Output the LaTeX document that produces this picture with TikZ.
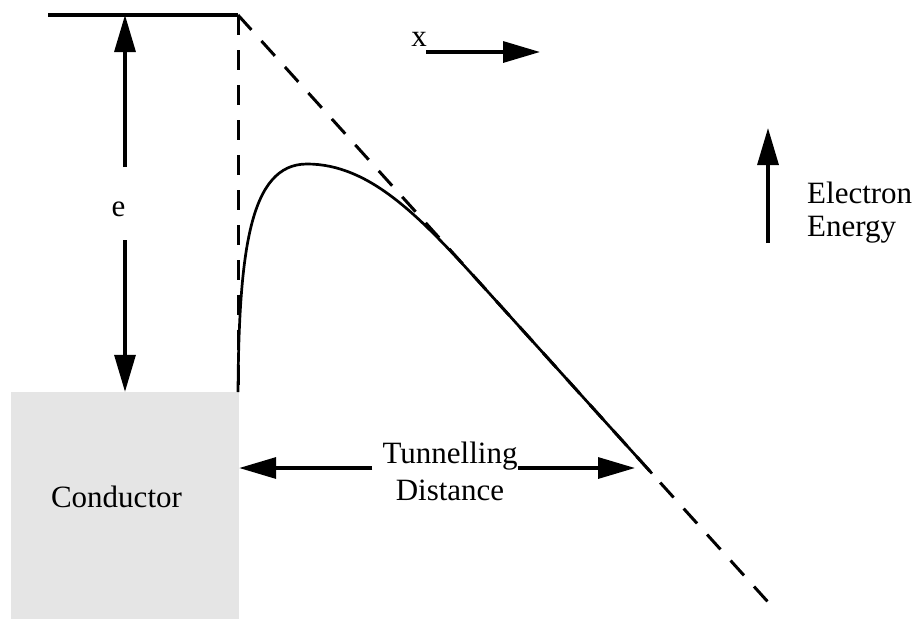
\documentclass[tikz,border=0pt]{standalone}
\usepackage{fontspec}
\setmainfont{Liberation Serif}
\usetikzlibrary{arrows.meta, positioning, calc}

\begin{document}
\begin{tikzpicture}[
  x=1pt, y=-1pt,
  txt/.style={font=\fontsize{31}{37}\selectfont, inner sep=0pt, align=center},
  arrow/.style={-{Triangle[length=37pt, width=21pt]}, line width=3.3pt},
  level/.style={line width=3.3pt},
  guide/.style={line width=3pt, dash pattern=on 20pt off 15pt},
  barrier/.style={line width=2.7pt},
  metal/.style={rectangle, fill=gray!20, minimum width=228pt, minimum height=227pt, inner sep=0pt}
]
\useasboundingbox (0,0) rectangle (918,619);

% conductor block
\node[metal] (cond) at (125,505.5) {};
\node[txt] (condtext) at (116.5,496.5) {Conductor};

% vacuum level and field line
\coordinate (vleft) at (48,15);
\coordinate (vtop) at (238,15);
\coordinate (vbot) at (238,392);
\coordinate (dend) at (768,602);
\coordinate (peak) at (307,164);
\coordinate (merge) at ($(vtop)!0.4566!(dend)$);
\coordinate (meet) at ($(vtop)!0.7811!(dend)$);

\draw[level] (vleft) -- (vtop);
\draw[guide] (vtop) -- (vbot);
\draw[guide] (vtop) -- (dend);

% barrier
\draw[barrier] (vbot) .. controls (239,250) and (250,164) .. (peak)
  .. controls (370,164) and (420,217) .. (merge) -- (meet);

% work function
\node[txt] (e) at (118.5,209) {e};
\coordinate (ehi) at (125,167);
\coordinate (elo) at (125,240);
\draw[arrow] (ehi) -- (ehi |- vleft);
\draw[arrow] (elo) -- (elo |- cond.north);

% x direction
\node[txt, anchor=base] (xl) at (419,46) {x};
\draw[arrow] ([xshift=7pt, yshift=-6pt]xl.base) -- ++(114,0) coordinate (xtip);

% energy direction
\coordinate (ebot) at (768,243);
\coordinate (etop) at (768,128);
\draw[arrow] (ebot) -- (etop);
\node[txt, align=left, anchor=north west, font=\fontsize{31}{33}\selectfont] (energy) at (807,182) {Electron\\Energy};

% tunnelling distance
\node[txt, anchor=north] (tun) at (450,441.5) {Tunnelling\\Distance};
\coordinate (tdR) at (635,468);
\draw[arrow] ([xshift=-10pt]tun.west |- tdR) -- (cond.east |- tdR);
\draw[arrow] (tun.east |- tdR) -- (tdR);

\end{tikzpicture}
\end{document}
